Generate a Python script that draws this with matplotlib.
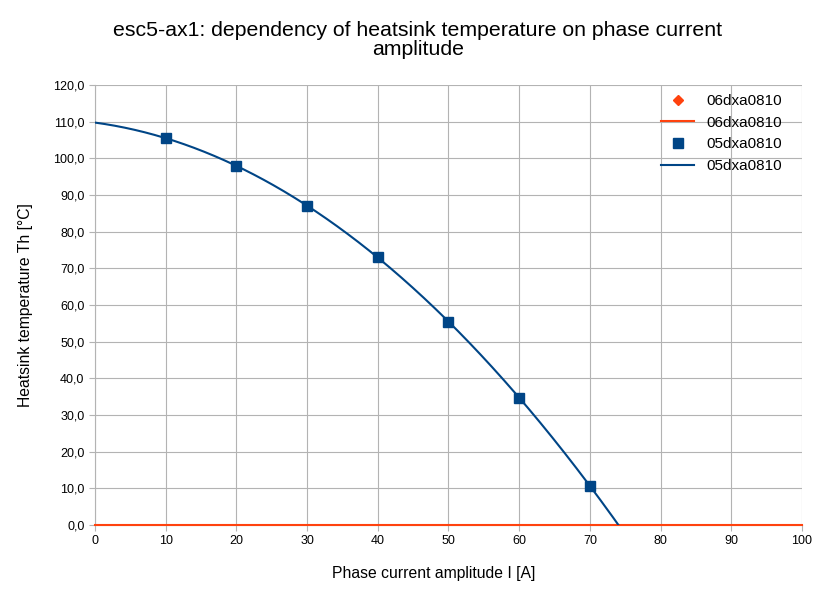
import numpy as np
import matplotlib
matplotlib.use("Agg")
import matplotlib.pyplot as plt
from matplotlib.ticker import FuncFormatter

current = [10, 20, 30, 40, 50, 60, 70]
temp_05 = [105.5, 97.9, 87.0, 73.1, 55.4, 34.7, 10.7]
current_06 = [0, 100]
temp_06 = [0, 0]

plt.rcParams["font.family"] = "Liberation Sans"
fig = plt.figure(figsize=(8.36, 5.98), dpi=100)
ax = fig.add_axes([0.1136, 0.122, 0.8457, 0.736])

blue = "#004586"
orange = "#ff420e"
ax.plot([], [], "D", color=orange, ms=5, label="06dxa0810")
ax.plot(current_06, temp_06, color=orange, lw=1.5, label="06dxa0810", clip_on=False, zorder=3)
ax.plot(current, temp_05, "s", color=blue, ms=7, label="05dxa0810", zorder=4)
c = np.polyfit(current, temp_05, 2)
xs = np.linspace(0, 100, 1000)
ax.plot(xs, np.polyval(c, xs), color=blue, lw=1.5, label="05dxa0810", zorder=3)

ax.set_xlim(0, 100)
ax.set_ylim(0, 120)
ax.set_xticks(range(0, 101, 10))
ax.set_yticks(range(0, 121, 10))
ax.yaxis.set_major_formatter(FuncFormatter(lambda v, p: f"{v:.1f}".replace(".", ",")))
ax.grid(True, color="#b3b3b3", lw=0.8)
ax.set_axisbelow(True)
for s in ["top", "right"]:
    ax.spines[s].set_visible(False)
for s in ["left", "bottom"]:
    ax.spines[s].set_color("#b3b3b3")
ax.tick_params(colors="#b3b3b3", labelcolor="black", labelsize=9, length=4)
fig.text(0.519, 0.028, "Phase current amplitude I [A]", fontsize=11.3, ha="center", va="bottom")
fig.text(0.03, 0.49, "Heatsink temperature Th [°C]", fontsize=11.3, ha="center", va="center", rotation=90)
fig.suptitle("esc5-ax1: dependency of heatsink temperature on phase current\namplitude",
             fontsize=15.3, y=0.965, linespacing=1.0)
leg = ax.legend(loc="upper right", frameon=False, fontsize=11, handlelength=2.2,
                borderaxespad=0.2, labelspacing=0.5, bbox_to_anchor=(0.985, 1.0))
fig.savefig("out.png", dpi=100)
